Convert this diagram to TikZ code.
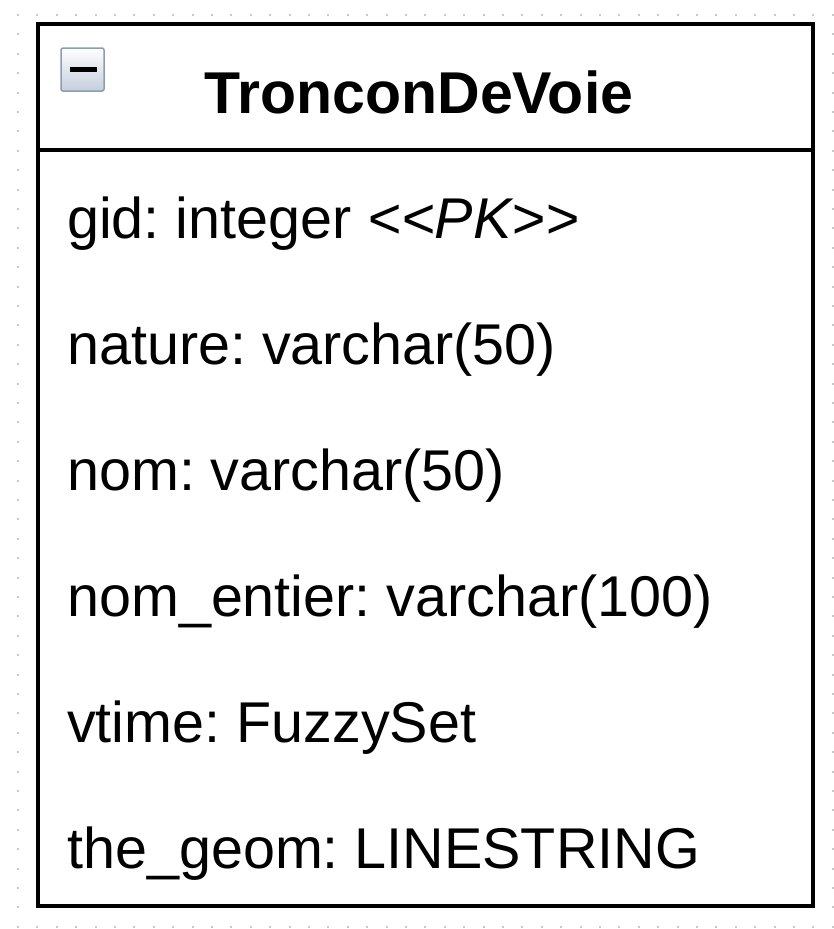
\documentclass[tikz,border=0pt]{standalone}
\usepackage{fontspec}
\setmainfont{Liberation Sans}
\usepackage{tikz}
\usetikzlibrary{positioning}
\frenchspacing
\definecolor{griddot}{RGB}{200,200,200}
\definecolor{iconedge}{RGB}{140,158,180}
\definecolor{iconfill}{RGB}{196,206,220}
\tikzset{
    frame/.style={
        draw=black,
        line width=4.5pt,
        fill=white
    },
    title/.style={
        font=\fontsize{59}{70}\selectfont\bfseries,
        inner sep=0pt,
        anchor=base
    },
    attr/.style={
        font=\fontsize{57.5}{68}\selectfont,
        inner sep=0pt,
        anchor=base west
    }
}

\begin{document}
\begin{tikzpicture}[x=1pt, y=-1pt]
  \useasboundingbox (0,0) rectangle (834,929);
  \fill[white] (0,0) rectangle (834,929);

  % Dotted background grid
  \foreach \i in {0,...,42} {
    \foreach \j in {0,...,47} {
      \fill[griddot] ({18+19.4*\i-1},{15+19.4*\j-1}) rectangle ++(2,2);
    }
  }

  % Class box
  \draw[frame] (38,24) rectangle (813,906);
  \draw[line width=4.5pt] (38,150) -- (813,150);

  % Collapse icon
  \shade[top color=white, bottom color=iconfill, draw=iconedge, line width=1.5pt,
    rounded corners=2pt] (61,48) rectangle (104,91);
  \fill[black] (70,67) rectangle (97,72);

  % Class name
  \node[title] (name) at (419,113) {TronconDeVoie};

  % Attributes
  \foreach \txt [count=\i] in {gid: integer \textit{<{}<PK>{}>},
      nature: varchar(50), nom: varchar(50), nom\_entier: varchar(100),
      vtime: FuzzySet, the\_geom: LINESTRING} {
    \node[attr] (a\i) at (67,{238+126*(\i-1)}) {\txt};
  }
\end{tikzpicture}
\end{document}
